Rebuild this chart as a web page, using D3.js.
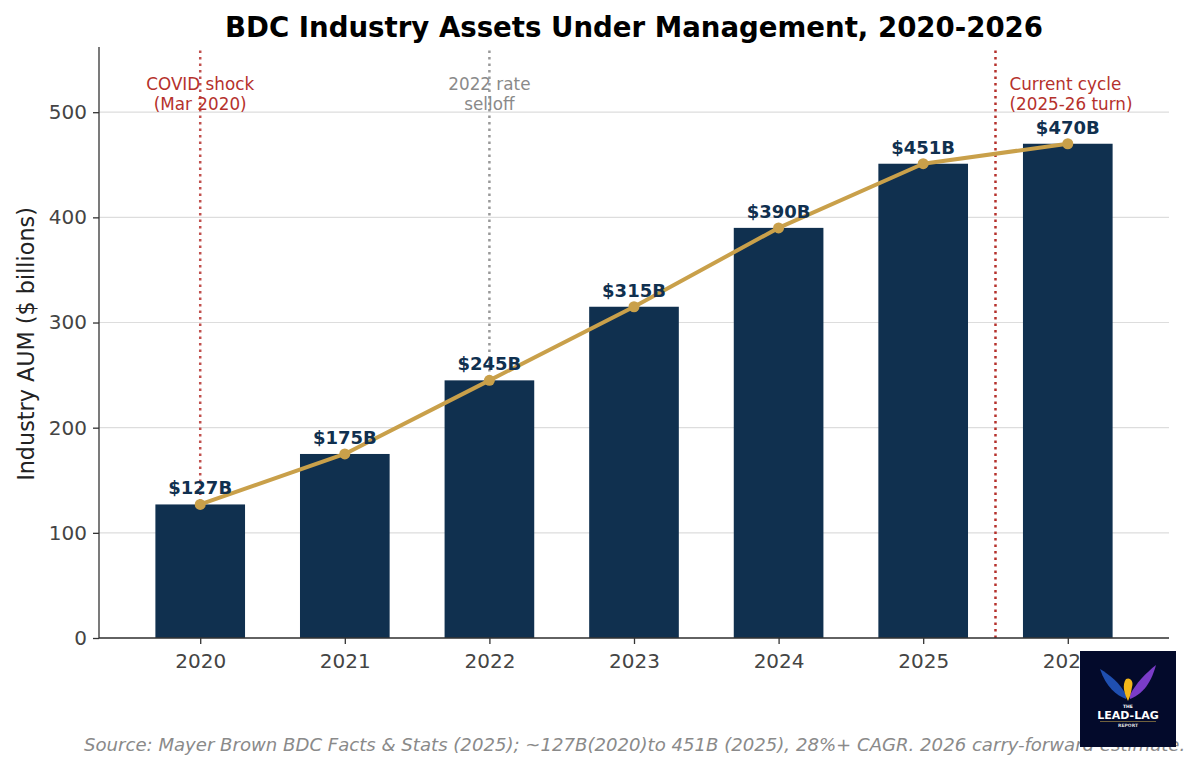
<!DOCTYPE html>
<html>
<head>
<meta charset="utf-8">
<script src="https://cdn.jsdelivr.net/npm/d3@7"></script>
<style>
  body { margin: 0; background: #fff; }
  svg { font-family: "DejaVu Sans", sans-serif; }
</style>
</head>
<body>
<svg id="chart"></svg>
<script>
let width = 1200;
let height = 771;

// data
let years = ["2020", "2021", "2022", "2023", "2024", "2025", "2026"];
let aum = [127, 175, 245, 315, 390, 451, 470];
let barLabels = ["$127B", "$175B", "$245B", "$315B", "$390B", "$451B", "$470B"];
let yTicks = [0, 100, 200, 300, 400, 500];

// event markers: position on the year index axis
let events = [
    {pos: 0, lines: ["COVID shock", "(Mar 2020)"], color: "#b5312c", lineColor: "#c0504d", anchor: "middle"},
    {pos: 2, lines: ["2022 rate", "selloff"], color: "#8a8a8a", lineColor: "#999999", anchor: "middle"},
    {pos: 5.5, lines: ["Current cycle", "(2025-26 turn)"], color: "#b5312c", lineColor: "#b5312c", anchor: "start"}
];

let barColor = "#10304f";
let lineColor = "#c9a04a";

let plotLeft = 99, plotRight = 1169, plotTop = 47, plotBottom = 638;

let svg = d3.select("#chart")
    .attr("width", width)
    .attr("height", height);

let x = d3.scaleLinear().domain([-0.7, 6.7]).range([plotLeft, plotRight]);
let y = d3.scaleLinear().domain([0, 562]).range([plotBottom, plotTop]);
let barW = x(0.62) - x(0);

// grid
svg.append("g")
    .selectAll("line")
    .data(yTicks)
    .enter().append("line")
    .attr("x1", plotLeft).attr("x2", plotRight)
    .attr("y1", d => y(d)).attr("y2", d => y(d))
    .attr("stroke", "#dddddd")
    .attr("stroke-width", 1.2);

// event lines (behind bars)
svg.append("g")
    .selectAll("line")
    .data(events)
    .enter().append("line")
    .attr("x1", d => x(d.pos)).attr("x2", d => x(d.pos))
    .attr("y1", y(0)).attr("y2", plotTop + 3)
    .attr("stroke", d => d.lineColor)
    .attr("stroke-width", 2.5)
    .attr("stroke-dasharray", "2.5,4");

// bars
svg.append("g")
    .selectAll("rect")
    .data(aum)
    .enter().append("rect")
    .attr("x", (d, i) => x(i) - barW / 2)
    .attr("y", d => y(d))
    .attr("width", barW)
    .attr("height", d => y(0) - y(d))
    .attr("fill", barColor);

// trend line
let line = d3.line()
    .x((d, i) => x(i))
    .y(d => y(d));

svg.append("path")
    .datum(aum)
    .attr("d", line)
    .attr("fill", "none")
    .attr("stroke", lineColor)
    .attr("stroke-width", 4)
    .attr("stroke-linejoin", "round");

svg.append("g")
    .selectAll("circle")
    .data(aum)
    .enter().append("circle")
    .attr("cx", (d, i) => x(i))
    .attr("cy", d => y(d))
    .attr("r", 5.5)
    .attr("fill", lineColor);

// value labels
svg.append("g")
    .selectAll("text")
    .data(aum)
    .enter().append("text")
    .attr("x", (d, i) => x(i))
    .attr("y", d => y(d) - 10)
    .attr("text-anchor", "middle")
    .attr("font-size", 18)
    .attr("font-weight", "bold")
    .attr("fill", "#10304f")
    .text((d, i) => barLabels[i]);

// event annotations
events.forEach(function (ev) {
    let t = svg.append("text")
        .attr("text-anchor", ev.anchor)
        .attr("font-size", 16.8)
        .attr("fill", ev.color);
    ev.lines.forEach(function (s, k) {
        t.append("tspan")
            .attr("x", ev.anchor === "start" ? x(ev.pos) + 14 : x(ev.pos))
            .attr("y", 90 + k * 19.5)
            .text(s);
    });
});

// axes
let yAxis = d3.axisLeft(y).tickValues(yTicks).tickSize(6).tickPadding(6);
let gy = svg.append("g")
    .attr("transform", "translate(" + plotLeft + ",0)")
    .call(yAxis);

let xAxis = d3.axisBottom(x).tickValues(d3.range(years.length))
    .tickFormat(i => years[i]).tickSize(6).tickPadding(10);
let gx = svg.append("g")
    .attr("transform", "translate(0," + plotBottom + ")")
    .call(xAxis);

[gx, gy].forEach(function (g) {
    g.select(".domain").attr("stroke", "#333").attr("stroke-width", 1.3);
    g.selectAll(".tick line").attr("stroke", "#333").attr("stroke-width", 1.3);
    g.selectAll(".tick text")
        .attr("font-size", 20)
        .attr("fill", "#444")
        .attr("font-family", "DejaVu Sans, sans-serif");
});
gx.select(".domain").attr("d", "M" + plotLeft + ",0H" + plotRight);
gy.select(".domain").attr("d", "M0," + plotBottom + "V" + plotTop);

// axis title
svg.append("text")
    .attr("transform", "translate(34," + 344 + ") rotate(-90)")
    .attr("text-anchor", "middle")
    .attr("font-size", 22.3)
    .attr("fill", "#222")
    .text("Industry AUM ($ billions)");

// title
svg.append("text")
    .attr("x", 634)
    .attr("y", 37)
    .attr("text-anchor", "middle")
    .attr("font-size", 27.6)
    .attr("font-weight", "bold")
    .attr("fill", "#000")
    .text("BDC Industry Assets Under Management, 2020-2026");

// source note
svg.append("text")
    .attr("x", 84)
    .attr("y", 751)
    .attr("font-size", 18.1)
    .attr("font-style", "italic")
    .attr("fill", "#8a8a8a")
    .text("Source: Mayer Brown BDC Facts & Stats (2025); ~127B(2020)to 451B (2025), 28%+ CAGR. 2026 carry-forward estimate.");

// logo badge
let logo = svg.append("g").attr("transform", "translate(1080,651)");
logo.append("rect")
    .attr("width", 96).attr("height", 96)
    .attr("fill", "#030a2b");
// wings
logo.append("path")
    .attr("d", "M46,48 C36,44 26,36 20,18 C30,24 40,32 46,44 Z")
    .attr("fill", "#1f4fb0");
logo.append("path")
    .attr("d", "M50,48 C60,44 70,36 76,14 C66,22 56,32 50,44 Z")
    .attr("fill", "#7a3cc8");
logo.append("path")
    .attr("d", "M48,50 C44,42 42,34 46,28 C50,26 54,30 52,36 C51,42 50,46 48,50 Z")
    .attr("fill", "#f2b619");
logo.append("text")
    .attr("x", 48).attr("y", 57)
    .attr("text-anchor", "middle")
    .attr("font-size", 4.5)
    .attr("font-weight", "bold")
    .attr("fill", "#fff")
    .text("THE");
logo.append("text")
    .attr("x", 48).attr("y", 68)
    .attr("text-anchor", "middle")
    .attr("font-size", 11)
    .attr("font-weight", "bold")
    .attr("fill", "#fff")
    .text("LEAD-LAG");
logo.append("line")
    .attr("x1", 20).attr("x2", 76).attr("y1", 70.5).attr("y2", 70.5)
    .attr("stroke", "#b89a4a").attr("stroke-width", 0.6);
logo.append("text")
    .attr("x", 48).attr("y", 76)
    .attr("text-anchor", "middle")
    .attr("font-size", 4.5)
    .attr("font-weight", "bold")
    .attr("fill", "#ddd")
    .text("REPORT");
</script>
</body>
</html>
